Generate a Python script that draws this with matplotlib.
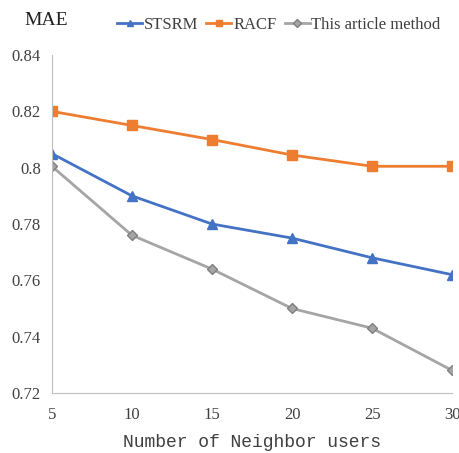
import matplotlib
matplotlib.use("Agg")
import matplotlib.pyplot as plt

x = [5, 10, 15, 20, 25, 30]
stsrm = [0.805, 0.790, 0.780, 0.775, 0.768, 0.762]
racf = [0.820, 0.815, 0.810, 0.8045, 0.8005, 0.8005]
ours = [0.8005, 0.776, 0.764, 0.750, 0.743, 0.728]
yticks = [0.72, 0.74, 0.76, 0.78, 0.8, 0.82, 0.84]
ylabels = ["0.72", "0.74", "0.76", "0.78", "0.8", "0.82", "0.84"]

plt.rcParams['font.family'] = ['Liberation Serif', 'DejaVu Serif']

fig = plt.figure(figsize=(4.59, 4.53), dpi=100)
ax = fig.add_axes([0.113, 0.1325, 0.872, 0.746])

ax.plot(x, stsrm, color='#4472C4', lw=2, marker='^', ms=6.5, label='STSRM')
ax.plot(x, racf, color='#ED7D31', lw=2, marker='s', ms=6.5, label='RACF')
ax.plot(x, ours, color='#A5A5A5', lw=2, marker='D', ms=5.5, mfc='#A5A5A5', mec='#7F7F7F', label='This article method')

ax.set_xlim(5, 30)
ax.set_ylim(0.72, 0.84)
ax.set_yticks(yticks)
ax.set_yticklabels(ylabels)
ax.set_xticks(x)
for s in ['top', 'right']:
    ax.spines[s].set_visible(False)
for s in ['left', 'bottom']:
    ax.spines[s].set_color('#BFBFBF')
ax.tick_params(length=0, labelsize=12, colors='#404040', pad=8)
ax.tick_params(axis='x', pad=10)
ax.set_xlabel('Number of Neighbor users', fontsize=13, family=['Liberation Mono'], color='#404040', labelpad=8)
fig.text(0.054, 0.955, 'MAE', fontsize=14, ha='left', va='center', color='#202020')
fig.legend(loc='center left', bbox_to_anchor=(0.255, 0.945), ncol=3, frameon=False, fontsize=12,
           handlelength=1.5, handletextpad=0.1, columnspacing=0.5, borderaxespad=0, borderpad=0,
           labelcolor='#404040', markerscale=0.7)
for lab in ax.get_xticklabels() + ax.get_yticklabels():
    lab.set_clip_on(False)
fig.savefig('out.png', dpi=100)
